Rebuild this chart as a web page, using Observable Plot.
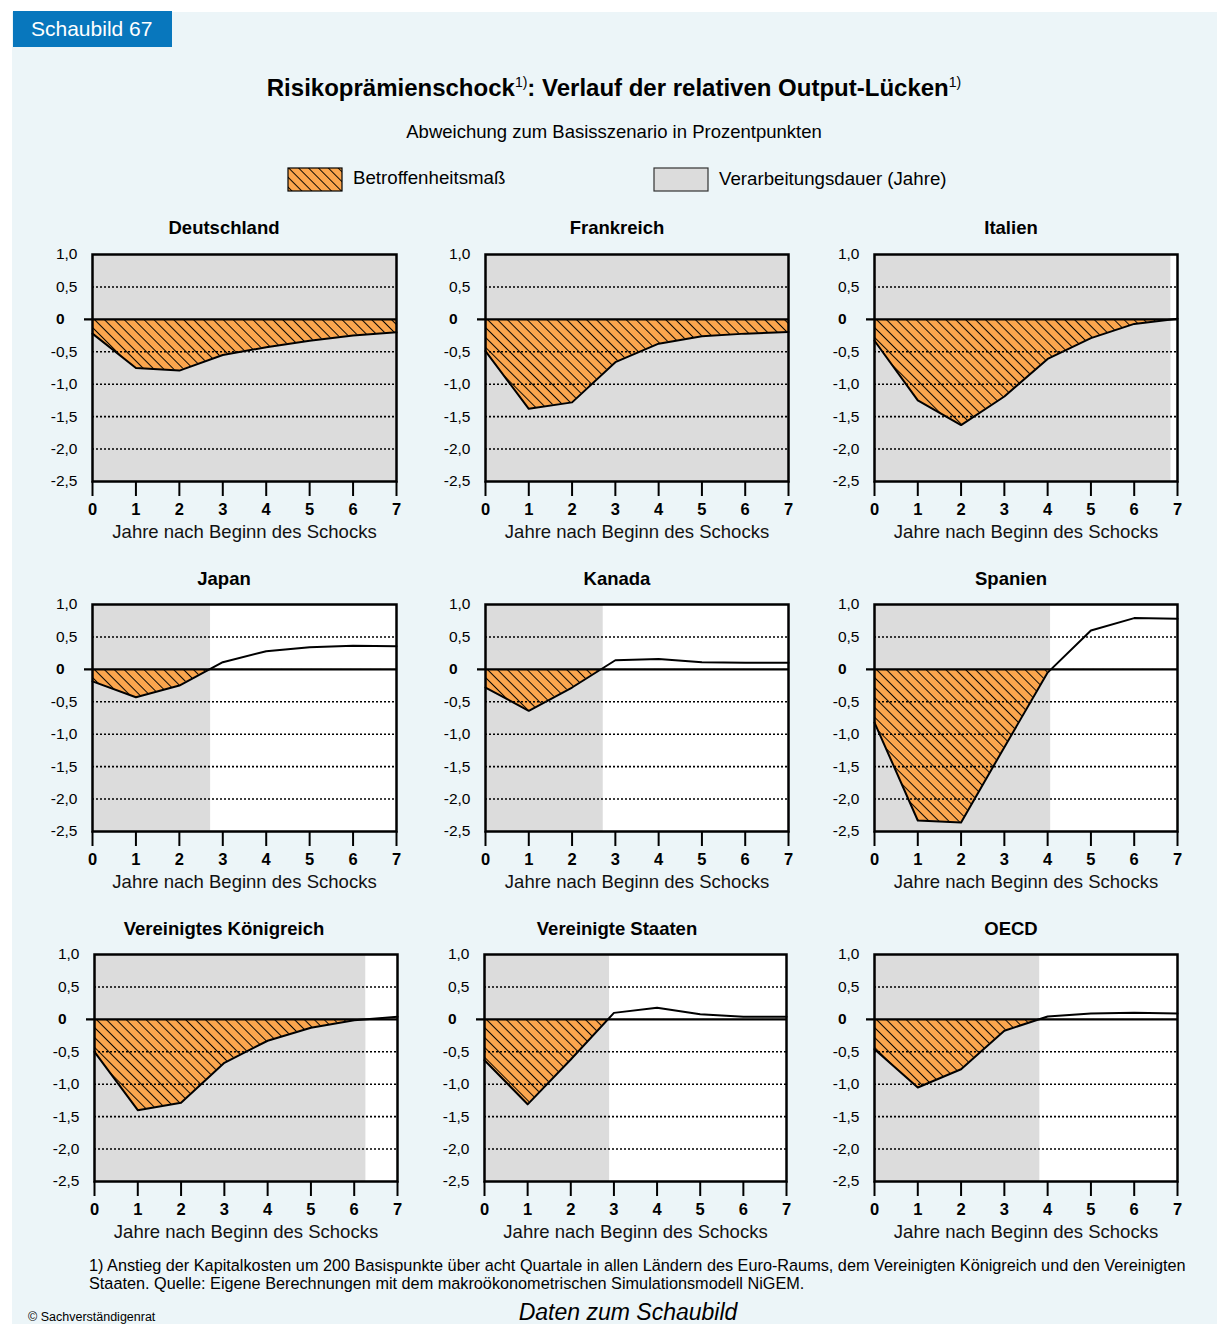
<!DOCTYPE html>
<html><head><meta charset="utf-8">
<script src="https://cdn.jsdelivr.net/npm/d3@7"></script>
<script src="https://cdn.jsdelivr.net/npm/@observablehq/plot@0.6"></script>
<style>
html,body{margin:0;padding:0;background:#fff;}
body{width:1217px;height:1324px;position:relative;overflow:hidden;font-family:"Liberation Sans",Arial,sans-serif;color:#000;}
#bg{position:absolute;left:12px;top:12px;width:1205px;height:1312px;background:#ecf5f8;}
.abs{position:absolute;white-space:nowrap;line-height:1;}
#badge{position:absolute;left:13px;top:11px;width:159px;height:36px;background:#0877bd;color:#fff;font-size:21px;line-height:36px;padding-left:18px;box-sizing:border-box;}
.panel{position:absolute;}
sup{font-size:14px;font-weight:normal;vertical-align:0;position:relative;top:-9px;}
</style>
</head>
<body>
<svg width="0" height="0" style="position:absolute">
  <defs>
    <pattern id="hatch" patternUnits="userSpaceOnUse" width="7" height="7" patternTransform="rotate(-45)">
      <rect width="7" height="7" fill="#fba64e"></rect>
      <line x1="0" y1="-1" x2="0" y2="8" stroke="#000" stroke-width="1.9"></line>
    </pattern>
  </defs>
</svg>
<div id="bg"></div>
<div id="badge">Schaubild 67</div>
<script>
// ---------- data ----------
const years = [0, 1, 2, 3, 4, 5, 6, 7];
const countries = ["Deutschland", "Frankreich", "Italien", "Japan", "Kanada", "Spanien",
  "Vereinigtes Königreich", "Vereinigte Staaten", "OECD"];
const deutschland = [-0.22, -0.75, -0.79, -0.55, -0.43, -0.33, -0.25, -0.20];
const frankreich = [-0.49, -1.38, -1.28, -0.66, -0.375, -0.26, -0.22, -0.195];
const italien = [-0.33, -1.25, -1.63, -1.19, -0.61, -0.29, -0.07, 0.01];
const japan = [-0.185, -0.43, -0.25, 0.11, 0.28, 0.34, 0.365, 0.355];
const kanada = [-0.28, -0.64, -0.28, 0.14, 0.16, 0.11, 0.10, 0.10];
const spanien = [-0.82, -2.33, -2.36, -1.20, -0.05, 0.60, 0.79, 0.78];
const vereinigtesKoenigreich = [-0.50, -1.40, -1.285, -0.67, -0.33, -0.13, -0.015, 0.04];
const vereinigteStaaten = [-0.63, -1.31, -0.62, 0.10, 0.18, 0.08, 0.04, 0.04];
const oecd = [-0.46, -1.05, -0.77, -0.175, 0.045, 0.09, 0.10, 0.09];
const series = [deutschland, frankreich, italien, japan, kanada, spanien,
  vereinigtesKoenigreich, vereinigteStaaten, oecd];
// Verarbeitungsdauer (Jahre): end of grey band
const verarbeitungsdauer = [7, 7, 6.85, 2.72, 2.72, 4.07, 6.27, 2.9, 3.82];
const yTicks = [1, 0.5, 0, -0.5, -1, -1.5, -2, -2.5];
const gridValues = [0.5, -0.5, -1, -1.5, -2];
const xLabel = "Jahre nach Beginn des Schocks";
const titleText = 'Risikoprämienschock<sup>1)</sup>: Verlauf der relativen Output-Lücken<sup>1)</sup>';
const subtitleText = "Abweichung zum Basisszenario in Prozentpunkten";
const legendLabels = ["Betroffenheitsmaß", "Verarbeitungsdauer (Jahre)"];
const footnoteLines = [
  "1) Anstieg der Kapitalkosten um 200 Basispunkte über acht Quartale in allen Ländern des Euro-Raums, dem Vereinigten Königreich und den Vereinigten",
  "Staaten. Quelle: Eigene Berechnungen mit dem makroökonometrischen Simulationsmodell NiGEM."
];

// ---------- layout ----------
const FONT = '"Liberation Sans", Arial, sans-serif';
const colLefts = [[92, 485, 874], [92, 485, 874], [94, 484, 874]];
const colWidths = [[304, 303, 303], [304, 303, 303], [303, 302, 303]];
const rowTops = [254, 604, 954];
const titleCenters = [224, 617, 1011];
const titleYs = [228, 579, 929];
const PH = 227, ML = 52, MR = 14, MT = 8, MB = 68;
const ymin = d3.min(yTicks), ymax = d3.max(yTicks), xmax = d3.max(years);

function place(html, x, y, css, anchor) {
  const d = document.createElement("div");
  d.className = "abs";
  d.innerHTML = html;
  d.style.left = x + "px";
  d.style.top = y + "px";
  Object.assign(d.style, css || {});
  d.style.transform = anchor === "left" ? "translate(0,-50%)" : "translate(-50%,-50%)";
  document.body.appendChild(d);
  return d;
}

place(titleText, 614, 88, {fontSize: "24px", fontWeight: "bold"});
place(subtitleText, 614, 132, {fontSize: "18.5px"});

// legend
function swatch(x, y, fill, stroke) {
  const s = d3.create("svg").attr("width", 56).attr("height", 25)
    .style("position", "absolute").style("left", x + "px").style("top", y + "px");
  s.append("rect").attr("x", 1).attr("y", 1).attr("width", 54).attr("height", 23)
    .attr("fill", fill).attr("stroke", stroke).attr("stroke-width", 1.2);
  document.body.appendChild(s.node());
}
swatch(287, 167, "url(#hatch)", "#000");
swatch(653, 167, "#dcdcdc", "#333");
place(legendLabels[0], 353, 178, {fontSize: "18.7px"}, "left");
place(legendLabels[1], 719, 179, {fontSize: "18.7px"}, "left");

const fmt = d => d === 0 ? "0" : d.toFixed(1).replace(".", ",");

countries.forEach((name, i) => {
  const row = Math.floor(i / 3), col = i % 3;
  const vals = series[i];
  const data = years.map((x, k) => ({x, v: vals[k]}));
  const shade = [{start: 0, end: verarbeitungsdauer[i]}];
  const pw = colWidths[row][col];
  const chart = Plot.plot({
    width: ML + pw + MR,
    height: MT + PH + MB,
    marginLeft: ML, marginRight: MR, marginTop: MT, marginBottom: MB,
    style: {fontFamily: FONT, background: "transparent", overflow: "visible", color: "#000"},
    x: {domain: [0, xmax], ticks: years},
    y: {domain: [ymin, ymax]},
    marks: [
      Plot.frame({fill: "white", stroke: "none"}),
      Plot.rect(shade, {x1: "start", x2: "end", y1: ymin, y2: ymax, fill: "#dcdcdc"}),
      Plot.areaY(data, {x: "x", y1: 0, y2: "v", fill: "url(#hatch)"}),
      // positive half: restore background above the zero line
      Plot.rect(shade, {x1: "start", x2: "end", y1: 0, y2: ymax, fill: "#dcdcdc"}),
      Plot.rect(shade, {x1: "end", x2: xmax, y1: 0, y2: ymax, fill: "white"}),
      Plot.ruleY(gridValues, {stroke: "#000", strokeWidth: 1.6, strokeDasharray: "2,2"}),
      Plot.line(data, {x: "x", y: "v", stroke: "#000", strokeWidth: 2}),
      Plot.ruleY([0], {stroke: "#000", strokeWidth: 2.2, insetLeft: -8}),
      Plot.frame({stroke: "#000", strokeWidth: 2.5}),
      Plot.axisY(yTicks.filter(d => d !== 0), {tickSize: 0, tickPadding: 15, fontSize: 15.5, tickFormat: fmt, label: null}),
      Plot.axisY([0], {tickSize: 0, tickPadding: 28, fontSize: 15.5, fontWeight: "bold", tickFormat: fmt, label: null}),
      Plot.axisX(years, {tickSize: 15, tickPadding: 7, fontSize: 16.5, fontWeight: "bold", strokeWidth: 2, label: null}),
      Plot.text([xLabel], {frameAnchor: "bottom", lineAnchor: "middle", dy: 51, fontSize: 18.5, fill: "#111"})
    ]
  });
  const wrap = document.createElement("div");
  wrap.className = "panel";
  wrap.style.left = (colLefts[row][col] - ML) + "px";
  wrap.style.top = (rowTops[row] - MT) + "px";
  wrap.appendChild(chart);
  document.body.appendChild(wrap);
  place(name, titleCenters[col], titleYs[row], {fontSize: "18.5px", fontWeight: "bold"});
});

place(footnoteLines[0], 89, 1265, {fontSize: "16.25px"}, "left");
place(footnoteLines[1], 89, 1283, {fontSize: "16.25px"}, "left");
place("© Sachverständigenrat", 28, 1317, {fontSize: "12.5px"}, "left");
place("Daten zum Schaubild", 628, 1312, {fontSize: "23px", fontStyle: "italic"});
</script>
</body></html>
